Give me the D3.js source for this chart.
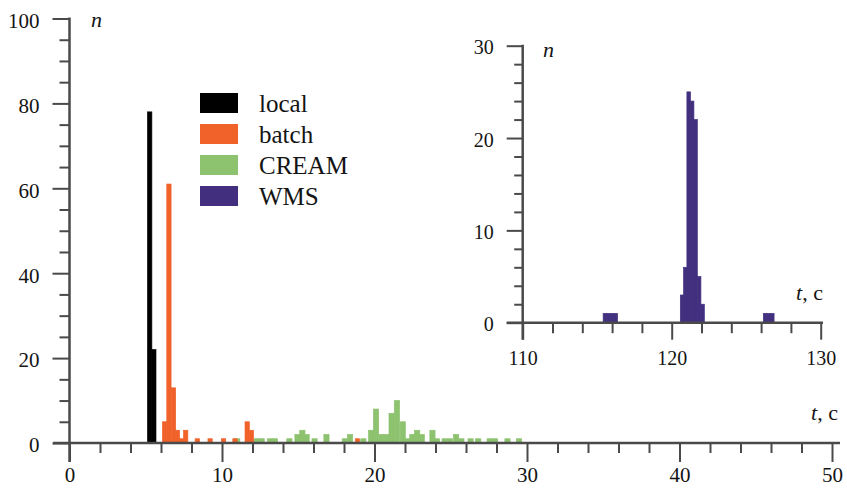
<!DOCTYPE html>
<html><head><meta charset="utf-8">
<script src="https://cdn.jsdelivr.net/npm/d3@7"></script>
<style>
body{margin:0;background:#fff}
text{font-family:"Liberation Serif","Times New Roman",serif;fill:#141414}
</style>
</head><body>
<svg id="c" width="847" height="489"></svg>
<script>
// ---------- data ----------
const seriesNames = ["local", "batch", "CREAM", "WMS"];
const seriesColors = ["#000000", "#f0622a", "#8dc26f", "#42307f"];

// main histogram (t in seconds, n = count); bin centres
const localT = [5.26, 5.53];
const localN = [78, 22];
const localW = 0.28;

const batchT = [6.24, 6.52, 6.82, 7.08, 7.34, 7.62, 8.38, 9.22, 10.1, 10.85, 11.65, 11.92, 18.88];
const batchN = [5, 61, 13, 3, 1, 3, 1, 1, 1, 1, 5, 3, 1];
const batchW = 0.28;

const creamT = [11.0, 12.27, 12.6, 13.15, 13.47, 14.42, 14.95, 15.27, 15.55, 16.07, 16.85, 18.05, 18.4,
  19.27, 19.78, 20.1, 20.45, 20.8, 21.12, 21.47, 21.85, 22.18, 22.48, 22.8, 23.1, 23.8, 24.1, 24.6,
  24.95, 25.35, 25.7, 26.3, 26.8, 27.55, 27.9, 28.72, 29.48];
const creamN = [1, 1, 1, 1, 1, 1, 2, 3, 2, 1, 2, 1, 2,
  1, 3, 8, 2, 2, 7, 10, 5, 1, 2, 3, 2, 3, 1, 1,
  1, 2, 1, 1, 1, 1, 1, 1, 1];
const creamW = 0.34;

// inset (WMS)
const wmsT = [115.52, 115.76, 116.0, 116.24, 120.7, 120.92, 121.14, 121.37, 121.6, 121.84, 122.07, 126.27, 126.51, 126.75];
const wmsN = [1, 1, 1, 1, 3, 6, 25, 24, 22, 5, 2, 1, 1, 1];
const wmsW = 0.24;

const mainXTicks = [0, 10, 20, 30, 40, 50];
const mainYTicks = [0, 20, 40, 60, 80, 100];
const insetXTicks = [110, 120, 130];
const insetYTicks = [0, 10, 20, 30];

// ---------- drawing ----------
const svg = d3.select("#c");
const AX = "#4a4a4a";
const FONT = '"Liberation Serif","Times New Roman",serif';

function drawHist(g, x, y, T, N, W, color) {
  g.selectAll(null).data(T.map((t, i) => ({t, n: N[i]}))).enter().append("rect")
    .attr("x", d => x(d.t - W / 2))
    .attr("width", d => x(d.t + W / 2) - x(d.t - W / 2))
    .attr("y", d => y(d.n))
    .attr("height", d => y(0) - y(d.n))
    .attr("fill", color)
    .attr("stroke", color)
    .attr("stroke-width", 0.7);
}

function styleAxis(g) {
  g.select(".domain").remove();
  g.selectAll(".tick line").attr("stroke", AX).attr("stroke-width", 2);
}

// main scales
const x = d3.scaleLinear().domain([0, 50]).range([69.5, 832]);
const y = d3.scaleLinear().domain([0, 100]).range([443, 18.5]);

const gm = svg.append("g");
drawHist(gm, x, y, creamT, creamN, creamW, seriesColors[2]);
drawHist(gm, x, y, batchT, batchN, batchW, seriesColors[1]);
drawHist(gm, x, y, localT, localN, localW, seriesColors[0]);

// main x axis ticks
const xMinor = d3.range(0, 51, 2).filter(v => v % 10 !== 0);
gm.append("g").attr("transform", `translate(0,${y(0)})`)
  .call(d3.axisBottom(x).tickValues(xMinor).tickSize(10).tickFormat(""))
  .call(styleAxis);
gm.append("g").attr("transform", `translate(0,${y(0)})`)
  .call(d3.axisBottom(x).tickValues(mainXTicks).tickSize(19).tickPadding(5).tickFormat(d3.format("d")))
  .call(styleAxis)
  .call(g => g.selectAll("text").attr("font-size", 21).attr("fill", "#141414").style("font-family", FONT));

// main y axis ticks
const yMinor = d3.range(0, 101, 5).filter(v => v % 20 !== 0);
gm.append("g").attr("transform", `translate(${x(0)},0)`)
  .call(d3.axisLeft(y).tickValues(yMinor).tickSize(10).tickFormat(""))
  .call(styleAxis);
gm.append("g").attr("transform", `translate(${x(0)},0)`)
  .call(d3.axisLeft(y).tickValues(mainYTicks).tickSize(17).tickPadding(13).tickFormat(d3.format("d")))
  .call(styleAxis)
  .call(g => g.selectAll("text").attr("font-size", 21).attr("dy", "0.42em").attr("fill", "#141414").style("font-family", FONT));

// main axis lines
gm.append("line").attr("x1", 53).attr("x2", 840).attr("y1", y(0)).attr("y2", y(0))
  .attr("stroke", AX).attr("stroke-width", 2.5);
gm.append("line").attr("x1", x(0)).attr("x2", x(0)).attr("y1", y(100) - 1).attr("y2", y(0) + 19)
  .attr("stroke", AX).attr("stroke-width", 2.5);

// main axis titles
gm.append("text").attr("x", 91).attr("y", 27).attr("font-size", 22).attr("font-style", "italic").text("n");
const tl = gm.append("text").attr("x", 838).attr("y", 420).attr("font-size", 22).attr("text-anchor", "end");
tl.append("tspan").attr("font-style", "italic").text("t");
tl.append("tspan").text(",\u00a0с");

// legend
const lg = svg.append("g");
seriesNames.forEach((name, i) => {
  const by = 112 + i * 31;
  lg.append("rect").attr("x", 200).attr("y", by - 19).attr("width", 38).attr("height", 20)
    .attr("fill", seriesColors[i]);
  lg.append("text").attr("x", 259).attr("y", by).attr("font-size", 25).text(name);
});

// ---------- inset ----------
const xi = d3.scaleLinear().domain([110, 130]).range([522.7, 820.7]);
const yi = d3.scaleLinear().domain([0, 30]).range([322.7, 45.7]);
const gi = svg.append("g");
drawHist(gi, xi, yi, wmsT, wmsN, wmsW, seriesColors[3]);

const xiMinor = d3.range(110, 131, 2).filter(v => v % 10 !== 0);
gi.append("g").attr("transform", `translate(0,${yi(0)})`)
  .call(d3.axisBottom(xi).tickValues(xiMinor).tickSize(10.5).tickFormat(""))
  .call(styleAxis);
gi.append("g").attr("transform", `translate(0,${yi(0)})`)
  .call(d3.axisBottom(xi).tickValues(insetXTicks).tickSize(17).tickPadding(11).tickFormat(d3.format("d")))
  .call(styleAxis)
  .call(g => g.selectAll("text").attr("font-size", 20).attr("fill", "#141414").style("font-family", FONT));

const yiMinor = d3.range(0, 31, 2).filter(v => v % 10 !== 0);
gi.append("g").attr("transform", `translate(${xi(110)},0)`)
  .call(d3.axisLeft(yi).tickValues(yiMinor).tickSize(8.5).tickFormat(""))
  .call(styleAxis);
gi.append("g").attr("transform", `translate(${xi(110)},0)`)
  .call(d3.axisLeft(yi).tickValues(insetYTicks).tickSize(16).tickPadding(13).tickFormat(d3.format("d")))
  .call(styleAxis)
  .call(g => g.selectAll("text").attr("font-size", 20).attr("dy", "0.4em").attr("fill", "#141414").style("font-family", FONT));

gi.append("line").attr("x1", 506.7).attr("x2", 823).attr("y1", yi(0)).attr("y2", yi(0))
  .attr("stroke", AX).attr("stroke-width", 2.5);
gi.append("line").attr("x1", xi(110)).attr("x2", xi(110)).attr("y1", yi(30) - 1).attr("y2", yi(0) + 17)
  .attr("stroke", AX).attr("stroke-width", 2.5);

gi.append("text").attr("x", 543).attr("y", 57).attr("font-size", 22).attr("font-style", "italic").text("n");
const ti = gi.append("text").attr("x", 823).attr("y", 300).attr("font-size", 22).attr("text-anchor", "end");
ti.append("tspan").attr("font-style", "italic").text("t");
ti.append("tspan").text(",\u00a0с");
</script>
</body></html>
